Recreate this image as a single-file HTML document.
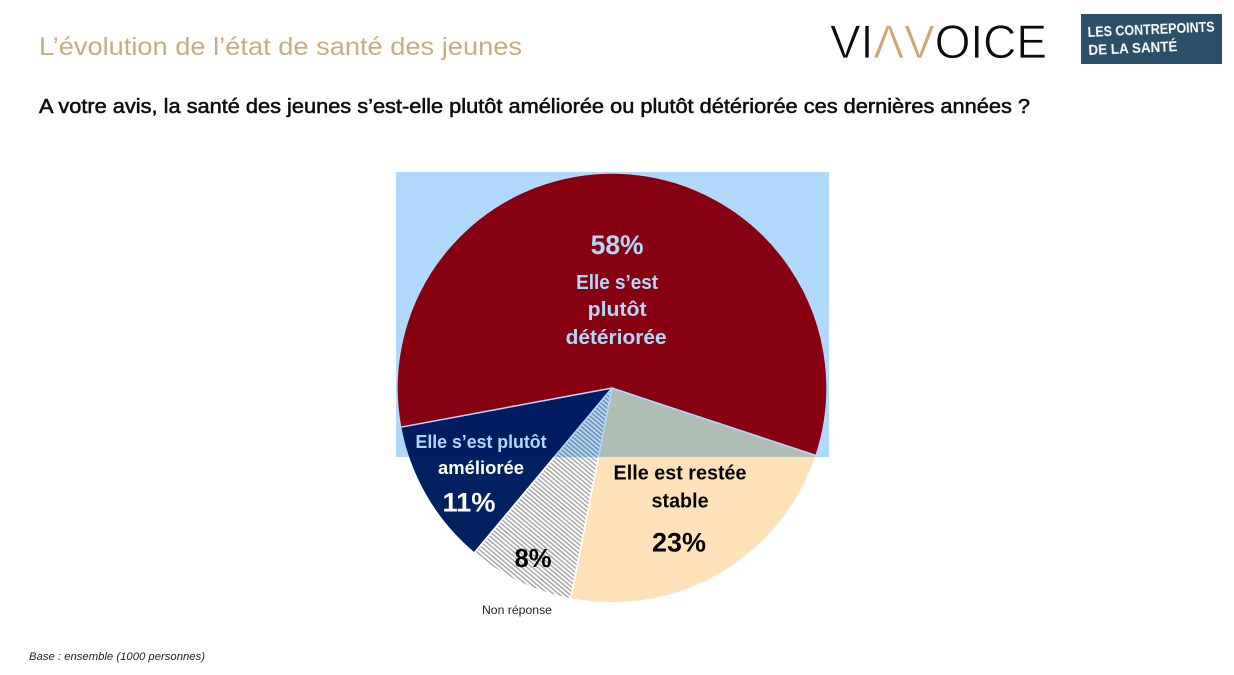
<!DOCTYPE html>
<html lang="fr">
<head>
<meta charset="utf-8">
<title>L’évolution de l’état de santé des jeunes</title>
<style>
html,body{margin:0;padding:0;background:#fff;width:1234px;height:675px;overflow:hidden}
svg{display:block;font-family:"Liberation Sans",sans-serif}
</style>
</head>
<body>
<svg id="slide" xmlns="http://www.w3.org/2000/svg" width="1234" height="675" viewBox="0 0 1234 675">
  <defs>
    <pattern id="hatch" patternUnits="userSpaceOnUse" width="3.4" height="3.4" patternTransform="rotate(40)">
      <rect width="3.4" height="3.4" fill="#ffffff"></rect>
      <rect width="3.4" height="1.4" fill="#a2a2a2"></rect>
    </pattern>
    <filter id="soft" x="-2%" y="-20%" width="104%" height="140%"><feGaussianBlur stdDeviation="0.35"></feGaussianBlur></filter>
  </defs>
  <rect width="1234" height="675" fill="#ffffff"></rect>

  <g filter="url(#soft)">
    <text x="39" y="55" font-size="25" fill="#c9ab80" textLength="483" lengthAdjust="spacingAndGlyphs">L’évolution de l’état de santé des jeunes</text>
    <text x="39" y="113" font-size="20" fill="#111111" stroke="#111111" stroke-width="0.55" textLength="991" lengthAdjust="spacingAndGlyphs">A votre avis, la santé des jeunes s’est-elle plutôt améliorée ou plutôt détériorée ces dernières années ?</text>
  </g>

  <g filter="url(#soft)">
    <text x="830" y="58" font-size="47" fill="#111111" stroke="#ffffff" stroke-width="0.8" textLength="217" lengthAdjust="spacingAndGlyphs">VI<tspan fill="#c9a873">ΛV</tspan>OICE</text>
  </g>

  <g>
    <rect x="1081" y="14" width="141" height="50" fill="#2a4f69"></rect>
    <g transform="rotate(-2.5 1088 40)" fill="#ffffff" font-weight="bold" filter="url(#soft)">
      <text x="1088" y="37" font-size="15" textLength="127" lengthAdjust="spacingAndGlyphs">LES CONTREPOINTS</text>
      <text x="1088" y="55" font-size="15" textLength="89" lengthAdjust="spacingAndGlyphs">DE LA SANTÉ</text>
    </g>
  </g>

  <g id="pie"></g>
  <g id="pie-labels"></g>

  <rect x="396" y="172" width="433" height="285" fill="#b0d8fb" style="mix-blend-mode:multiply"></rect>

  <text x="29" y="660" font-size="11" font-style="italic" fill="#222222" textLength="176" lengthAdjust="spacingAndGlyphs">Base : ensemble (1000 personnes)</text>
</svg>

<script>
const categories = ['stable', 'non-reponse', 'amelioree', 'deterioree'];
const values = [23, 8, 11, 58];
const valueLabels = ['23%', '8%', '11%', '58%'];
const categoryLines = [
  ['Elle est restée', 'stable'],
  ['Non réponse'],
  ['Elle s’est plutôt', 'améliorée'],
  ['Elle s’est', 'plutôt', 'détériorée']
];

const NS = 'http://www.w3.org/2000/svg';
const CX = 612, CY = 388, R = 215, START_DEG = 108.3;
const fills = ['#ffe2b9', 'url(#hatch)', '#002060', '#c20012'];
const total = values.reduce((a, b) => a + b, 0);

function angleScale(v) { return v / total * 360; }
function polar(deg, r) {
  const a = deg * Math.PI / 180;
  return [CX + r * Math.sin(a), CY - r * Math.cos(a)];
}

/* label placement per slice: radial distance of anchor, then line offsets from the anchor */
const layouts = [
  { r: 144, color: '#000000', lines: [
    { src: 'c0', dx: -4.6, dy: -33, size: 20, w: 133 },
    { src: 'c1', dx: -4.6, dy: -5, size: 20, w: 57 },
    { src: 'v', dx: -5.6, dy: 39, size: 27, w: 54 } ] },
  { r: 187, color: '#000000', lines: [
    { src: 'v', dx: 1.5, dy: 10, size: 26, w: 37 },
    { src: 'c0', dx: -14.5, dy: 57, size: 12, w: 70, weight: 'normal' } ] },
  { r: 164, color: '#ffffff', lines: [
    { src: 'c0', dx: 10.6, dy: -22.7, size: 18, w: 131 },
    { src: 'c1', dx: 10.6, dy: 3.3, size: 18, w: 86 },
    { src: 'v', dx: -1.4, dy: 41, size: 27, w: 53 } ] },
  { r: 90, color: '#ffffff', lines: [
    { src: 'v', dx: -1, dy: -44, size: 27, w: 53 },
    { src: 'c0', dx: -1, dy: -9, size: 20, w: 82 },
    { src: 'c1', dx: -1, dy: 18, size: 20, w: 59 },
    { src: 'c2', dx: -2, dy: 46, size: 20, w: 101 } ] }
];

const pie = document.getElementById('pie');
const labelsGroup = document.getElementById('pie-labels');
let angle = START_DEG;

values.forEach(function (v, i) {
  const sweep = angleScale(v);
  const p0 = polar(angle, R);
  const p1 = polar(angle + sweep, R);
  const large = sweep > 180 ? 1 : 0;
  const path = document.createElementNS(NS, 'path');
  path.setAttribute('d', 'M' + CX + ' ' + CY + 'L' + p0[0] + ' ' + p0[1] +
    'A' + R + ' ' + R + ' 0 ' + large + ' 1 ' + p1[0] + ' ' + p1[1] + 'Z');
  path.setAttribute('fill', fills[i]);
  path.setAttribute('stroke', '#ffffff');
  path.setAttribute('stroke-width', '1.5');
  path.setAttribute('stroke-linejoin', 'round');
  
  
  pie.appendChild(path);

  const layout = layouts[i];
  const anchor = polar(angle + sweep / 2, layout.r);
  layout.lines.forEach(function (line) {
    const t = document.createElementNS(NS, 'text');
    t.setAttribute('x', anchor[0] + line.dx);
    t.setAttribute('y', anchor[1] + line.dy);
    t.setAttribute('text-anchor', 'middle');
    t.setAttribute('font-size', line.size);
    t.setAttribute('font-weight', line.weight || 'bold');
    t.setAttribute('fill', layout.color);
    t.setAttribute('textLength', line.w);
    t.setAttribute('lengthAdjust', 'spacingAndGlyphs');
    t.textContent = line.src === 'v' ? valueLabels[i] : categoryLines[i][Number(line.src.slice(1))];
    
    
    labelsGroup.appendChild(t);
  });

  angle += sweep;
});

document.querySelectorAll('#pie-labels text').forEach(function (t) {
  if (t.textContent === 'Non réponse') t.setAttribute('fill', '#222222');
});
</script>
</body>
</html>
